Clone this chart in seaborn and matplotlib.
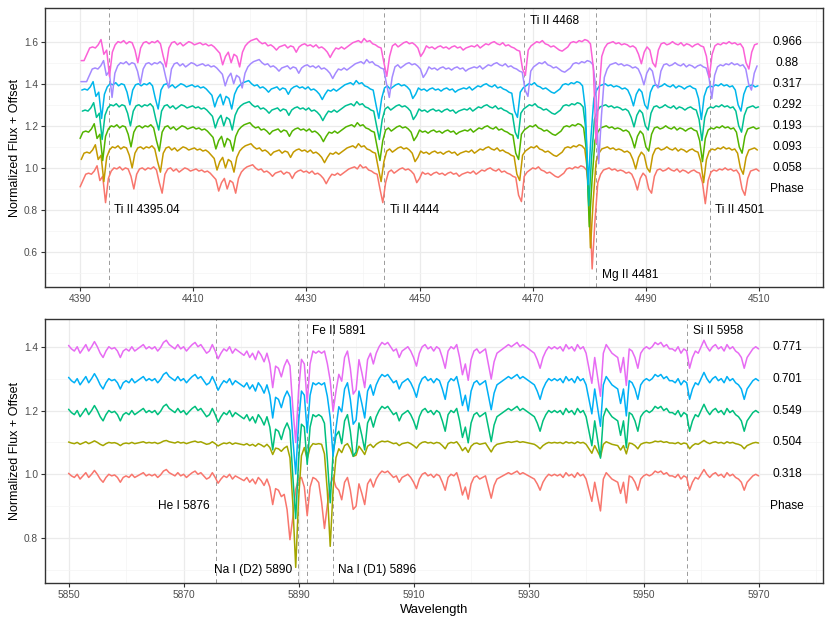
import numpy as np
import pandas as pd
import matplotlib
matplotlib.use("Agg")
import matplotlib.pyplot as plt
import seaborn as sns

sns.set_theme(style="white")
plt.rcParams['font.family'] = ['Liberation Sans', 'DejaVu Sans']

# ---------------- top panel: 4390-4510 A (Ti II / Mg II) ----------------
# normalized flux of the phase 0.058 spectrum, read every 0.5 A from 4389.0 A
top_start = 4389.0
top_step = 0.5
top_flux = [
    0.91, 0.91,
    0.91, 0.94, 0.97, 0.975, 0.97, 0.985, 1.01, 0.94, 0.96, 0.835,
    0.95, 0.985, 1.0, 0.995, 1.005, 0.99, 1.0, 0.995, 0.96, 0.9,
    0.97, 0.995, 1.0, 0.99, 1.0, 0.995, 1.005, 0.99, 0.93, 0.88,
    0.97, 0.995, 1.0, 0.985, 0.995, 0.98, 0.99, 1.0, 0.995, 0.985,
    0.99, 0.995, 0.985, 0.99, 0.98, 0.985, 0.975, 0.96, 0.945, 0.89,
    0.93, 0.95, 0.9, 0.94, 0.93, 0.88, 0.95, 0.98, 0.995, 1.005,
    1.01, 1.015, 1.0, 0.99, 0.995, 0.98, 0.985, 0.975, 0.96, 0.975,
    0.98, 0.985, 0.97, 0.98, 0.975, 0.95, 0.975, 0.985, 0.99, 0.98,
    0.985, 0.975, 0.985, 0.97, 0.975, 0.965, 0.95, 0.925, 0.95, 0.97,
    0.965, 0.975, 0.965, 0.975, 0.985, 0.995, 1.0, 1.005, 0.995, 1.015,
    1.0, 1.005, 0.99, 0.985, 0.975, 0.97, 0.9, 0.835, 0.93, 0.98,
    0.99, 0.975, 0.985, 0.995, 1.0, 0.99, 0.995, 0.985, 0.97, 0.93,
    0.95, 0.98, 0.97, 0.975, 0.965, 0.975, 0.98, 0.97, 0.975, 0.965,
    0.975, 0.98, 0.97, 0.975, 0.96, 0.97, 0.975, 0.98, 0.975, 0.985,
    0.97, 0.98, 0.99, 0.985, 0.995, 1.0, 0.99, 0.985, 0.995, 0.98,
    0.985, 0.975, 0.97, 0.96, 0.955, 0.87, 0.84, 0.96, 0.98, 0.99,
    1.0, 0.995, 1.005, 0.99, 0.985, 0.975, 0.98, 0.97, 0.96, 0.955,
    0.965, 0.975, 0.995, 1.0, 0.995, 1.005, 1.0, 1.01, 1.005, 0.99,
    0.88, 0.52, 0.75, 0.93, 0.97, 0.99, 0.995, 1.0, 0.99, 0.995,
    0.985, 0.99, 0.985, 0.975, 0.98, 0.97, 0.94, 0.895, 0.95, 0.975,
    0.96, 0.9, 0.88, 0.96, 0.99, 0.995, 0.985, 0.99, 1.0, 0.99,
    0.985, 0.995, 0.98, 0.99, 0.985, 0.975, 0.985, 0.99, 0.98, 0.975,
    0.93, 0.83, 0.94, 0.98, 0.99, 0.985, 0.995, 0.99, 1.0, 0.99,
    0.995, 0.985, 0.99, 0.97, 0.9, 0.87, 0.95, 0.985, 0.99, 0.995,
    0.985, 0.99, 0.99,
]
top_phases = ["0.058", "0.093", "0.193", "0.292", "0.317", "0.88", "0.966"]
top_offsets = [0.0, 0.1, 0.2, 0.3, 0.4, 0.5, 0.6]
top_shifts = [0.0, -0.3, -0.5, -0.6, -0.7, 1.15, 0.7]     # line shift per phase (A)
top_scales = [1.0, 1.0, 1.0, 1.0, 1.0, 1.0, 1.0]
top_colors = ["#F8766D", "#C49A00", "#53B400", "#00C094", "#00B6EB", "#A58AFF", "#FB61D7"]
top_lines = [4395.04, 4443.8, 4468.5, 4481.2, 4501.3]
top_labels = ["Ti II 4395.04", "Ti II 4444", "Ti II 4468", "Mg II 4481", "Ti II 4501"]
top_label_y = [0.8, 0.8, 1.70, 0.49, 0.8]

# ---------------- bottom panel: 5850-5970 A (Na D region) ----------------
# normalized flux of the phase 0.318 spectrum without Na D, every 0.5 A from 5849.0 A
bot_start = 5849.0
bot_step = 0.5
bot_flux = [
    1.0, 1.0,
    1.003, 0.995, 0.99, 1.0, 0.985, 0.995, 1.005, 0.99, 1.0, 1.012,
    1.0, 0.985, 0.975, 0.99, 1.0, 0.995, 0.998, 0.99, 0.975, 0.99,
    0.995, 0.99, 1.0, 0.99, 0.995, 1.0, 1.005, 0.995, 1.0, 0.995,
    1.0, 0.99, 0.998, 1.01, 1.015, 1.005, 1.0, 0.995, 1.005, 0.995,
    1.0, 0.99, 0.998, 1.005, 1.01, 1.0, 1.005, 0.995, 0.985, 0.99,
    1.005, 0.99, 0.972, 0.985, 0.995, 0.99, 1.0, 0.985, 0.995, 0.99,
    0.985, 0.98, 0.99, 0.975, 0.985, 0.97, 0.99, 0.98, 0.965, 0.985,
    0.96, 0.905, 0.955, 0.95, 0.93, 0.955, 0.97, 0.975, 0.945, 0.97,
    0.985, 0.99, 0.96, 0.87, 0.96, 0.99, 0.985, 0.99, 0.985, 0.99,
    0.975, 0.985, 0.99, 0.96, 0.95, 0.92, 0.975, 0.99, 0.95, 0.89,
    0.9, 0.97, 0.94, 0.905, 0.97, 0.985, 0.96, 0.985, 1.0, 1.01,
    1.005, 1.01, 1.0, 0.99, 0.995, 0.975, 0.99, 0.995, 1.0, 0.99,
    0.975, 0.955, 0.985, 1.0, 1.005, 0.995, 1.0, 0.99, 1.0, 0.995,
    0.975, 0.95, 0.99, 1.0, 0.995, 1.005, 0.975, 0.935, 0.96, 0.922,
    0.97, 0.99, 0.995, 0.985, 0.99, 0.995, 0.96, 0.925, 0.965, 0.985,
    0.99, 0.995, 1.0, 1.005, 1.0, 1.005, 1.01, 1.0, 1.005, 1.0,
    0.995, 0.99, 0.985, 0.97, 0.95, 0.975, 0.99, 1.0, 0.995, 1.0,
    0.995, 1.0, 0.99, 1.005, 0.995, 1.0, 0.99, 1.005, 0.995, 1.0,
    0.985, 0.95, 0.915, 0.975, 0.93, 0.885, 0.985, 1.005, 0.995, 0.985,
    0.98, 0.975, 0.94, 0.975, 0.91, 0.995, 0.99, 0.975, 0.95, 0.985,
    0.995, 1.0, 0.995, 1.0, 1.01, 1.005, 1.01, 1.0, 1.005, 0.995,
    0.995, 0.99, 1.0, 0.985, 0.995, 0.99, 0.95, 0.975, 0.99, 0.985,
    1.0, 1.015, 1.0, 0.99, 1.0, 1.005, 0.995, 1.0, 0.99, 1.005,
    0.995, 1.0, 0.99, 0.985, 0.975, 0.95, 0.975, 0.985, 0.995, 1.0,
    0.995, 1.0, 1.0,
]
bot_phases = ["0.318", "0.504", "0.549", "0.701", "0.771"]
bot_offsets = [0.0, 0.1, 0.2, 0.3, 0.4]
bot_shifts = [0.0, 0.0, 0.0, 0.0, 0.0]
bot_scales = [1.0, 0.4, 1.3, 1.3, 1.35]                   # photospheric line strength
bot_colors = ["#F8766D", "#A3A500", "#00BF7D", "#00B0F6", "#E76BF3"]
# sodium doublet per phase: centre (A) and depth
na_d2_center = [5888.5, 5889.5, 5889.5, 5889.5, 5889.5]
na_d2_depth = [0.18, 0.38, 0.30, 0.26, 0.26]
na_d1_center = [5894.5, 5895.5, 5895.5, 5896.0, 5896.0]
na_d1_depth = [0.16, 0.32, 0.27, 0.23, 0.19]
na_shape_offsets = [-1.0, -0.5, 0.0, 0.5, 1.0]
na_shape = [0.1, 0.45, 1.0, 0.45, 0.1]
bot_lines = [5875.6, 5889.95, 5891.4, 5895.92, 5957.56]
bot_labels = ["He I 5876", "Na I (D2) 5890", "Fe II 5891", "Na I (D1) 5896", "Si II 5958"]
bot_label_y = [0.9, 0.70, 1.45, 0.70, 1.45]
bot_label_side = ["right", "right", "left", "left", "left"]


def build_frame(start, step, flux, phases, offsets, shifts, scales, lo, hi, absorb=None):
    """Stack the spectra into one long table, one block per phase."""
    flux = np.asarray(flux)
    wave = start + step * np.arange(len(flux))
    frames = []
    for i, ph in enumerate(phases):
        y = 1.0 - scales[i] * (1.0 - flux)
        if absorb is not None:
            y = y - absorb[i]
        x = wave + shifts[i]
        keep = (x >= lo) & (x <= hi)
        frames.append(pd.DataFrame({"Wavelength": x[keep],
                                    "Flux": y[keep] + offsets[i],
                                    "Phase": ph}))
    return pd.concat(frames, ignore_index=True)


def na_absorption(n):
    out = []
    for i in range(len(bot_phases)):
        a = np.zeros(n)
        for c, d in ((na_d2_center[i], na_d2_depth[i]), (na_d1_center[i], na_d1_depth[i])):
            for off, s in zip(na_shape_offsets, na_shape):
                a[int(round((c + off - bot_start) / bot_step))] += d * s
        out.append(a)
    return out


top_df = build_frame(top_start, top_step, top_flux, top_phases, top_offsets,
                     top_shifts, top_scales, 4390, 4510)
bot_df = build_frame(bot_start, bot_step, bot_flux, bot_phases, bot_offsets,
                     bot_shifts, bot_scales, 5850, 5970, na_absorption(len(bot_flux)))

fig = plt.figure(figsize=(8.3, 6.23), dpi=100)
ax1 = fig.add_axes([45 / 830, 336 / 623, 778 / 830, 279 / 623])
ax2 = fig.add_axes([45 / 830, 40 / 623, 778 / 830, 264 / 623])


def style_axis(ax, xlim, ylim, xmaj, xmin, ymaj, ymin):
    ax.set_xlim(*xlim)
    ax.set_ylim(*ylim)
    ax.set_xticks(xmaj)
    ax.set_xticks(xmin, minor=True)
    ax.set_yticks(ymaj)
    ax.set_yticks(ymin, minor=True)
    ax.set_yticklabels([f"{v:.1f}" for v in ymaj])
    ax.grid(which="major", color="#EBEBEB", lw=0.9)
    ax.grid(which="minor", color="#F4F4F4", lw=0.5)
    ax.set_axisbelow(True)
    ax.tick_params(which="major", length=3, width=0.8, color="#333333",
                   labelcolor="#4D4D4D", labelsize=7.3, pad=2, bottom=True, left=True)
    ax.tick_params(which="minor", length=0)
    for s in ax.spines.values():
        s.set_color("#333333")
        s.set_linewidth(1.0)
    ax.set_ylabel("Normalized Flux + Offset", fontsize=9.0, color="black", labelpad=2)


for ax, df, phases, colors, lines, labels, ly, sides, offs, xtxt in [
    (ax1, top_df, top_phases, top_colors, top_lines, top_labels, top_label_y,
     ["left"] * 5, top_offsets, 4515),
    (ax2, bot_df, bot_phases, bot_colors, bot_lines, bot_labels, bot_label_y,
     bot_label_side, bot_offsets, 5975),
]:
    for wl in lines:
        ax.axvline(wl, color="#8C8C8C", lw=0.6, ls=(0, (5, 4)), zorder=1)
    sns.lineplot(data=df, x="Wavelength", y="Flux", hue="Phase", hue_order=phases,
                 palette=colors, estimator=None, sort=False, lw=1.1, legend=False,
                 ax=ax, zorder=2)
    for wl, lab, y, side in zip(lines, labels, ly, sides):
        xt = wl + 1 if side == "left" else wl - 1
        ax.text(xt, y, lab, ha=side, va="center", fontsize=8.6, color="black")
    for ph, o in zip(phases, offs):
        ax.text(xtxt, 1.0 + o, ph, ha="center", va="center", fontsize=8.6, color="black")
    ax.text(xtxt, 0.9, "Phase", ha="center", va="center", fontsize=8.6, color="black")

style_axis(ax1, (4383.8, 4521.3), (0.434, 1.76),
           np.arange(4390, 4511, 20), np.arange(4400, 4521, 20),
           [0.6, 0.8, 1.0, 1.2, 1.4, 1.6], [0.5, 0.7, 0.9, 1.1, 1.3, 1.5, 1.7])
ax1.set_xlabel("")
style_axis(ax2, (5845.9, 5981.2), (0.659, 1.487),
           np.arange(5850, 5971, 20), np.arange(5860, 5981, 20),
           [0.8, 1.0, 1.2, 1.4], [0.7, 0.9, 1.1, 1.3])
ax2.set_xlabel("Wavelength", fontsize=9.4, color="black", labelpad=3)

fig.savefig("out.png", dpi=100)
